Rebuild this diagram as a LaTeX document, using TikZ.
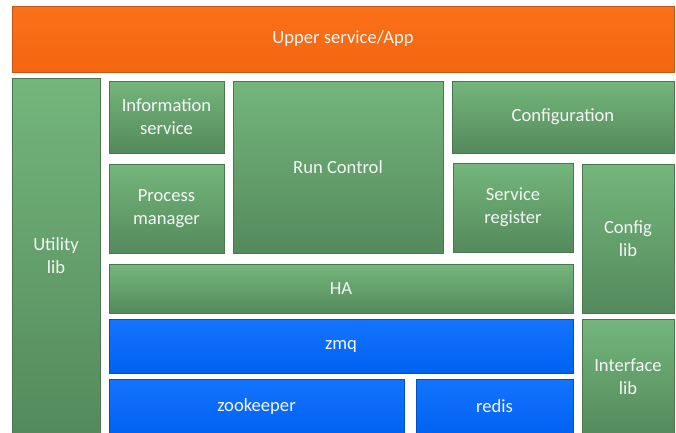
\documentclass[tikz,border=0pt]{standalone}
\usepackage{fontspec}
\setmainfont{Carlito}
\usetikzlibrary{shadows}
\definecolor{apptop}{RGB}{250,112,24}
\definecolor{appbot}{RGB}{244,102,16}
\definecolor{appedge}{RGB}{200,86,20}
\definecolor{greentop}{RGB}{116,182,124}
\definecolor{greenbot}{RGB}{84,138,92}
\definecolor{greenedge}{RGB}{74,118,80}
\definecolor{bluetop}{RGB}{20,116,255}
\definecolor{bluebot}{RGB}{0,98,240}
\definecolor{blueedge}{RGB}{0,80,200}
\tikzset{
  layer/.style={draw=greenedge, line width=0.6pt, top color=greentop, bottom color=greenbot,
    text=white!96!black, anchor=north west, align=center, inner sep=0pt, outer sep=0pt,
    font=\fontsize{18.6}{23}\selectfont,
    drop shadow={shadow xshift=1pt, shadow yshift=-1.2pt, opacity=0.35}},
  netlayer/.style={layer, draw=blueedge, top color=bluetop, bottom color=bluebot},
  applayer/.style={layer, draw=appedge, top color=apptop, bottom color=appbot}
}
\begin{document}
\begin{tikzpicture}[x=1pt,y=-1pt]
\useasboundingbox (0,0) rectangle (676,432);
% top
\node[applayer, minimum width=662pt, minimum height=66pt] (app) at (12,6) {Upper service/App};
% green layers
\node[layer, minimum width=88pt, minimum height=356pt] (util) at (12,78) {Utility\\lib};
\node[layer, minimum width=115pt, minimum height=72pt] (info) at (109,81) {Information\\service};
\node[layer, minimum width=210pt, minimum height=172pt] (runctrl) at (233,81) {Run Control};
\node[layer, minimum width=222pt, minimum height=72pt] (config) at (452,81) {Configuration};
\node[layer, minimum width=115pt, minimum height=89pt] (procmgr) at (109,164) {Process\\manager};
\node[layer, minimum width=120pt, minimum height=89pt] (svcreg) at (453,163) {Service\\register};
\node[layer, minimum width=92pt, minimum height=149pt] (cfglib) at (582,164) {Config\\lib};
\node[layer, minimum width=464pt, minimum height=49pt] (ha) at (109,264) {HA};
\node[layer, minimum width=92pt, minimum height=115pt] (iface) at (582,319) {Interface\\lib};
% transport
\node[netlayer, minimum width=464pt, minimum height=54pt] (zmq) at (109,319) {zmq};
\node[netlayer, minimum width=295pt, minimum height=55pt] (zk) at (109,379) {zookeeper};
\node[netlayer, minimum width=157pt, minimum height=55pt] (redis) at (416,379) {redis};
\end{tikzpicture}
\end{document}
